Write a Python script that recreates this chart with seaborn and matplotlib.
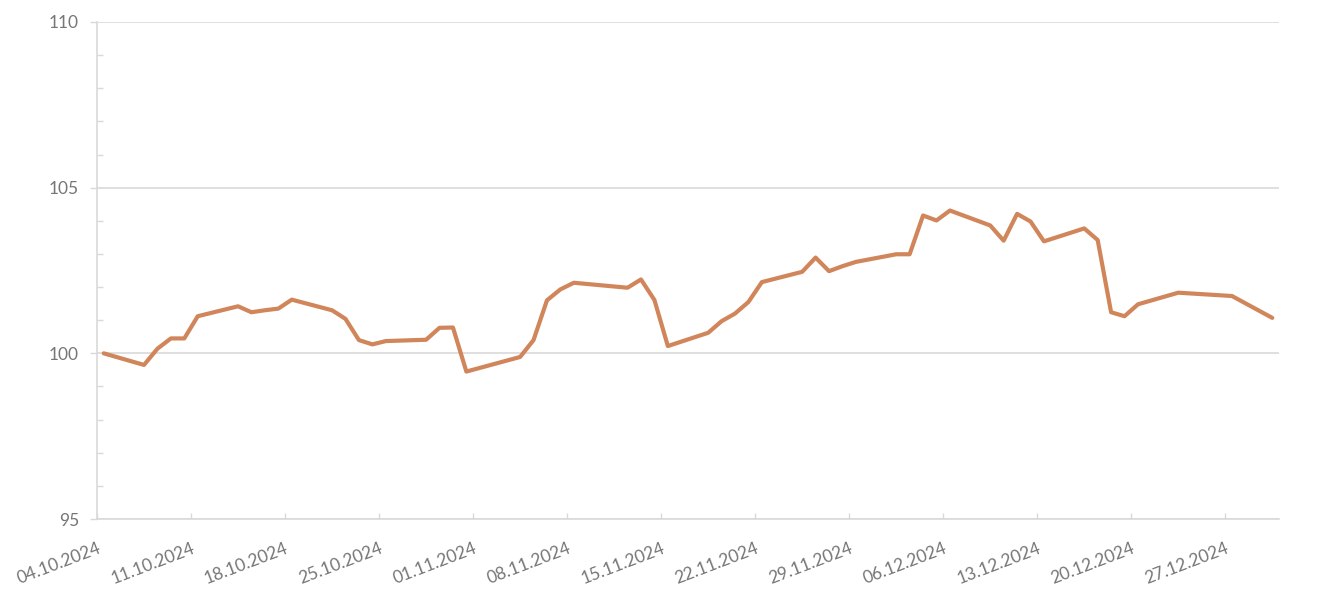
import matplotlib
matplotlib.use("Agg")
import matplotlib.pyplot as plt
import matplotlib.transforms as mtransforms
from matplotlib.ticker import MultipleLocator
import seaborn as sns
import pandas as pd

dates = ["04.10.2024", "07.10.2024", "08.10.2024", "09.10.2024", "10.10.2024", "11.10.2024",
         "14.10.2024", "15.10.2024", "16.10.2024", "17.10.2024", "18.10.2024",
         "21.10.2024", "22.10.2024", "23.10.2024", "24.10.2024", "25.10.2024",
         "28.10.2024", "29.10.2024", "30.10.2024", "31.10.2024",
         "04.11.2024", "05.11.2024", "06.11.2024", "07.11.2024", "08.11.2024",
         "12.11.2024", "13.11.2024", "14.11.2024", "15.11.2024",
         "18.11.2024", "19.11.2024", "20.11.2024", "21.11.2024", "22.11.2024",
         "25.11.2024", "26.11.2024", "27.11.2024", "28.11.2024", "29.11.2024",
         "02.12.2024", "03.12.2024", "04.12.2024", "05.12.2024", "06.12.2024",
         "09.12.2024", "10.12.2024", "11.12.2024", "12.12.2024", "13.12.2024",
         "16.12.2024", "17.12.2024", "18.12.2024", "19.12.2024", "20.12.2024",
         "23.12.2024", "27.12.2024", "30.12.2024"]
values = [100.00, 99.65, 100.14, 100.45, 100.45, 101.12,
          101.42, 101.24, 101.30, 101.35, 101.62,
          101.30, 101.04, 100.40, 100.27, 100.37,
          100.41, 100.77, 100.78, 99.45,
          99.89, 100.40, 101.60, 101.93, 102.13,
          101.98, 102.23, 101.61, 100.22,
          100.62, 100.97, 101.20, 101.55, 102.15,
          102.46, 102.89, 102.48, 102.63, 102.76,
          102.99, 102.99, 104.16, 104.01, 104.31,
          103.86, 103.40, 104.21, 103.98, 103.38,
          103.77, 103.42, 101.24, 101.12, 101.48,
          101.83, 101.73, 101.07]
tick_dates = ["04.10.2024", "11.10.2024", "18.10.2024", "25.10.2024", "01.11.2024",
              "08.11.2024", "15.11.2024", "22.11.2024", "29.11.2024", "06.12.2024",
              "13.12.2024", "20.12.2024", "27.12.2024"]
y_ticks = [95, 100, 105, 110]

LINE = "#D0865A"
GRID = "#D9D9D9"
TXT = "#767676"

sns.set_style("white")
plt.rcParams["font.family"] = ["Lato", "DejaVu Sans"]

df = pd.DataFrame({"date": pd.to_datetime(dates, format="%d.%m.%Y") + pd.Timedelta(hours=12),
                   "value": values})

fig = plt.figure(figsize=(13.17, 5.98), dpi=100)
ax = fig.add_axes([97 / 1317, 1 - 519 / 598, (1279 - 97) / 1317, (519 - 22) / 598])

sns.lineplot(data=df, x="date", y="value", color=LINE, lw=3.0, ax=ax)

ax.set_xlim(pd.Timestamp("2024-10-04"), pd.Timestamp("2024-12-31"))
ax.set_ylim(95, 110)
ax.set_yticks(y_ticks)
ax.yaxis.set_minor_locator(MultipleLocator(1))
ticks = pd.to_datetime(tick_dates, format="%d.%m.%Y")
ax.set_xticks(ticks)
ax.set_xticklabels(tick_dates, rotation=21, ha="right", rotation_mode="anchor")
shift = mtransforms.ScaledTranslation(0.06, 0, fig.dpi_scale_trans)
for lbl in ax.get_xticklabels():
    lbl.set_transform(lbl.get_transform() + shift)

ax.grid(axis="y", color=GRID, lw=1.2)
ax.grid(axis="x", visible=False)
for s in ["top", "right"]:
    ax.spines[s].set_visible(False)
for s in ["left", "bottom"]:
    ax.spines[s].set_color(GRID)
    ax.spines[s].set_linewidth(1.2)

ax.tick_params(axis="y", which="major", direction="out", length=5, width=1, color=GRID,
               labelsize=12.5, labelcolor=TXT, pad=8, left=True)
ax.tick_params(axis="y", which="minor", direction="in", length=4, width=1, color=GRID, left=True)
ax.tick_params(axis="x", which="major", direction="in", length=4.5, width=1, color=GRID,
               labelsize=12.5, labelcolor=TXT, pad=15, bottom=True)
ax.set_xlabel("")
ax.set_ylabel("")

fig.savefig("out.png", dpi=100)
